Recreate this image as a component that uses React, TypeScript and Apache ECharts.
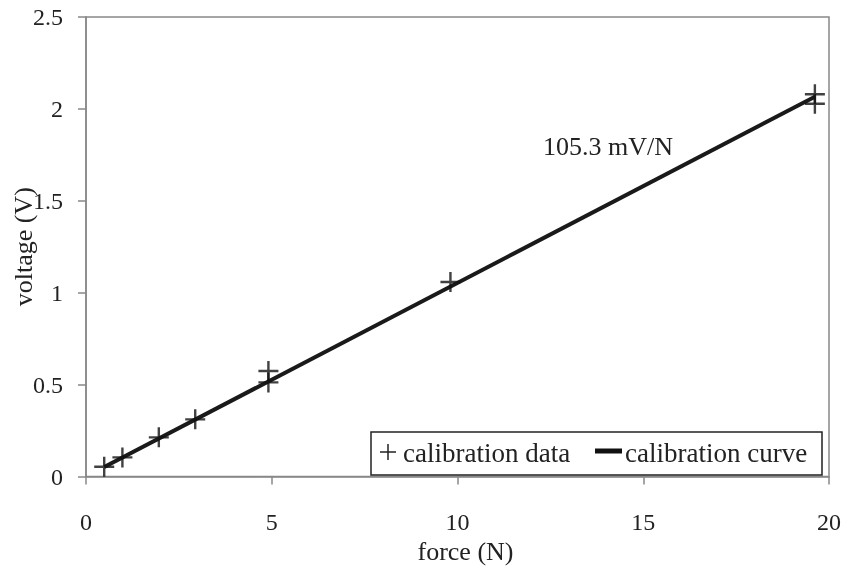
import React, { useEffect, useRef } from "react";
import * as echarts from "echarts";

const forceN = [0.49, 0.98, 1.96, 2.94, 4.91, 4.91, 9.81, 19.62, 19.62];
const voltageV = [0.053, 0.104, 0.213, 0.311, 0.574, 0.512, 1.058, 2.08, 2.028];
const curveX = [0.49, 19.62];
const curveY = [0.052, 2.066];
const xTicks = [0, 5, 10, 15, 20];
const yTicks = [0, 0.5, 1, 1.5, 2, 2.5];

const FONT = "'Liberation Serif', 'Times New Roman', serif";
const PLUS = "path://M8.8,0H11.2V8.8H20V11.2H11.2V20H8.8V11.2H0V8.8H8.8Z";

export default function App() {
  const ref = useRef<HTMLDivElement>(null);
  useEffect(() => {
    const chart = echarts.init(ref.current!, null, { renderer: "svg" });
    chart.setOption({
      animation: false,
      textStyle: { fontFamily: FONT, color: "#222" },
      grid: {
        left: 86,
        right: 14,
        top: 17,
        bottom: 90.5,
        containLabel: false,
        outerBoundsMode: "none",
        show: true,
        borderColor: "#888",
        borderWidth: 1.5,
        backgroundColor: "transparent",
      },
      xAxis: {
        type: "value",
        min: xTicks[0],
        max: xTicks[xTicks.length - 1],
        interval: 5,
        name: "force (N)",
        nameLocation: "middle",
        nameGap: 62,
        nameMoveOverlap: false,
        nameTextStyle: { fontFamily: FONT, fontSize: 26, color: "#222", padding: [0, 0, 0, 16] },
        axisLine: { show: true, lineStyle: { color: "#888", width: 1.5 } },
        axisTick: { show: true, length: 8, lineStyle: { color: "#888", width: 1.5 } },
        axisLabel: { fontFamily: FONT, fontSize: 24, color: "#222", margin: 33 },
        splitLine: { show: false },
      },
      yAxis: {
        type: "value",
        min: yTicks[0],
        max: yTicks[yTicks.length - 1],
        interval: 0.5,
        name: "voltage (V)",
        nameLocation: "middle",
        nameGap: 50,
        nameMoveOverlap: false,
        nameTextStyle: { fontFamily: FONT, fontSize: 26, color: "#222" },
        axisLine: { show: true, lineStyle: { color: "#888", width: 1.5 } },
        axisTick: { show: true, length: 8, lineStyle: { color: "#888", width: 1.5 } },
        axisLabel: { fontFamily: FONT, fontSize: 24, color: "#222", margin: 23 },
        splitLine: { show: false },
      },
      series: [
        {
          name: "calibration curve",
          type: "line",
          data: curveX.map((x, i) => [x, curveY[i]]),
          showSymbol: false,
          symbol: "none",
          lineStyle: { color: "#1a1a1a", width: 4 },
          z: 2,
        },
        {
          name: "calibration data",
          type: "scatter",
          data: forceN.map((x, i) => [x, voltageV[i]]),
          symbol: PLUS,
          symbolSize: 20,
          itemStyle: { color: "#111" },
          z: 3,
        },
      ],
      graphic: [
        {
          type: "text",
          left: 543,
          top: 133,
          style: { text: "105.3 mV/N", font: `26px ${FONT}`, fill: "#222" },
        },
        {
          type: "rect",
          shape: { x: 371, y: 432, width: 451, height: 43 },
          style: { fill: "#fff", stroke: "#222", lineWidth: 1.5 },
          z: 10,
        },
        {
          type: "line",
          shape: { x1: 380, y1: 452, x2: 396, y2: 452 },
          style: { stroke: "#222", lineWidth: 1.5 },
          z: 11,
        },
        {
          type: "line",
          shape: { x1: 388, y1: 444, x2: 388, y2: 460 },
          style: { stroke: "#222", lineWidth: 1.5 },
          z: 11,
        },
        {
          type: "text",
          x: 403,
          y: 453,
          style: {
            text: "calibration data",
            font: `27px ${FONT}`,
            fill: "#222",
            verticalAlign: "middle",
          },
          z: 11,
        },
        {
          type: "line",
          shape: { x1: 595, y1: 451, x2: 622, y2: 451 },
          style: { stroke: "#111", lineWidth: 5 },
          z: 11,
        },
        {
          type: "text",
          x: 625,
          y: 453,
          style: {
            text: "calibration curve",
            font: `27px ${FONT}`,
            fill: "#222",
            verticalAlign: "middle",
          },
          z: 11,
        },
      ],
    });
    return () => chart.dispose();
  }, []);
  return <div ref={ref} style={{ width: 843, height: 567, position: "fixed", left: 0, top: 0 }} />;
}
